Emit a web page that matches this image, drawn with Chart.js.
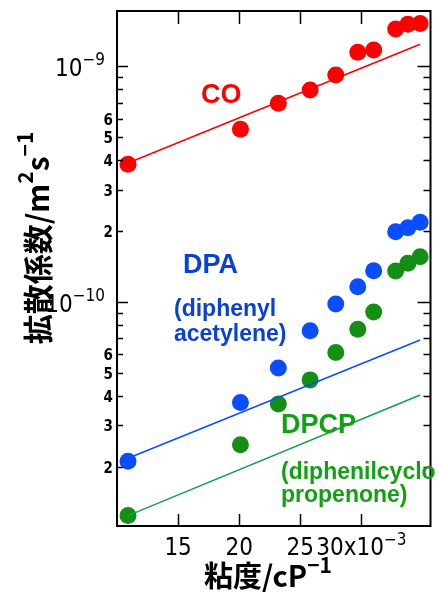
<!DOCTYPE html>
<html>
<head>
<meta charset="utf-8">
<script src="https://cdn.jsdelivr.net/npm/chart.js@4/dist/chart.umd.min.js"></script>
<style>
html, body { margin: 0; padding: 0; background: #fff; }
#wrap { width: 439px; height: 594px; }
</style>
</head>
<body>
<div id="wrap"><canvas id="diffusionChart" width="439" height="594"></canvas></div>
<script>
// 粘度の逆数 (x10^-3 cP^-1)
const invViscosity = [10.9, 20.1, 23.2, 25.8, 27.9, 29.7, 31.0, 32.8, 33.8, 34.8];
// 拡散係数 (m^2 s^-1)
const diffCO = [3.84e-10, 5.41e-10, 6.97e-10, 7.93e-10, 9.19e-10, 1.147e-9, 1.173e-9, 1.44e-9, 1.507e-9, 1.52e-9];
const diffDPA = [2.11e-11, 3.74e-11, 5.25e-11, 7.55e-11, 9.81e-11, 1.161e-10, 1.358e-10, 1.987e-10, 2.066e-10, 2.18e-10];
const diffDPCP = [1.24e-11, 2.48e-11, 3.69e-11, 4.67e-11, 6.10e-11, 7.66e-11, 9.07e-11, 1.354e-10, 1.46e-10, 1.557e-10];
// 直線 (両端)
const fitX = [10.9, 34.8];
const fitCO = [3.89e-10, 1.24e-9];
const fitDPA = [2.17e-11, 6.9e-11];
const fitDPCP = [1.24e-11, 4.03e-11];
// 目盛り
const xTicks = [15, 20, 25, 30];
const yDecades = [-11, -10, -9];
const yLabeledMantissa = [2, 3, 4, 5, 6];

const toPoints = (xs, ys) => xs.map((x, i) => ({ x: x, y: ys[i] }));

const RED = '#ff0000';
const BLUE = '#0a4dff';
const BLUE_TEXT = '#0a3fd8';
const GREEN = '#139013';
const GREEN_LINE = '#12a050';
const GREEN_TEXT = '#14a014';
const NARROW = '"Liberation Sans Narrow", "DejaVu Sans Condensed", "Liberation Sans", sans-serif';
const CJK = '"Noto Sans CJK JP", "Noto Sans", sans-serif';
const ARIAL = '"Liberation Sans", Arial, sans-serif';

function scatterSet(data, color) {
    return {
        data: data,
        showLine: false,
        backgroundColor: color,
        borderWidth: 0,
        pointRadius: 8.5,
        pointHoverRadius: 8.5
    };
}
function lineSet(data, color) {
    return {
        data: data,
        showLine: true,
        borderColor: color,
        borderWidth: 1.5,
        pointRadius: 0,
        fill: false
    };
}

// 上付き文字付きテキスト
function drawParts(ctx, parts, x, y, align) {
    let total = 0;
    parts.forEach(p => { ctx.font = p.font; total += ctx.measureText(p.t).width; });
    let cx = x;
    if (align === 'center') cx = x - total / 2;
    if (align === 'right') cx = x - total;
    ctx.textAlign = 'left';
    ctx.textBaseline = 'alphabetic';
    parts.forEach(p => {
        ctx.font = p.font;
        ctx.fillText(p.t, cx, y + (p.dy || 0));
        cx += ctx.measureText(p.t).width;
    });
}

const framePlugin = {
    id: 'framePlugin',
    afterDraw(chart) {
        const ctx = chart.ctx;
        const a = chart.chartArea;
        const xs = chart.scales.x;
        const ys = chart.scales.y;
        ctx.save();
        ctx.strokeStyle = '#000';
        ctx.fillStyle = '#000';
        ctx.lineWidth = 2;
        ctx.strokeRect(a.left, a.top, a.right - a.left, a.bottom - a.top);

        // x 目盛り
        ctx.lineWidth = 1.5;
        xTicks.forEach(v => {
            const px = Math.round(xs.getPixelForValue(v)) + 0.5;
            ctx.beginPath();
            ctx.moveTo(px, a.bottom); ctx.lineTo(px, a.bottom - 12);
            ctx.moveTo(px, a.top); ctx.lineTo(px, a.top + 13);
            ctx.stroke();
        });
        xTicks.forEach((v, i) => {
            const px = xs.getPixelForValue(v);
            if (i === xTicks.length - 1) {
                drawParts(ctx, [
                    { t: v + 'x10', font: '24px ' + NARROW },
                    { t: '\u22123', font: '17px ' + NARROW, dy: -10 }
                ], px, 555, 'center');
            } else {
                drawParts(ctx, [{ t: String(v), font: '24px ' + NARROW }], px, 555, 'center');
            }
        });

        // y 目盛り
        yDecades.forEach(e => {
            for (let m = 1; m <= 9; m++) {
                const v = m * Math.pow(10, e);
                if (v < ys.min || v > ys.max) continue;
                const py = Math.round(ys.getPixelForValue(v)) + 0.5;
                const major = m === 1;
                ctx.beginPath();
                ctx.moveTo(a.left, py); ctx.lineTo(a.left + (major ? 11 : 6), py);
                ctx.moveTo(a.right, py); ctx.lineTo(a.right - (major ? 13 : 7), py);
                ctx.stroke();
                if (major) {
                    drawParts(ctx, [
                        { t: '10', font: '24px ' + NARROW },
                        { t: '\u2212' + (-e), font: '17px ' + NARROW, dy: -11 }
                    ], 105, py + 9, 'right');
                } else if (yLabeledMantissa.includes(m)) {
                    drawParts(ctx, [{ t: String(m), font: 'bold 15px ' + NARROW }], 113, py + 5.5, 'right');
                }
            }
        });

        // 軸タイトル
        drawParts(ctx, [
            { t: '粘度/cP', font: 'bold 29px ' + CJK },
            { t: '\u22121', font: 'bold 21px ' + CJK, dy: -14 }
        ], 268, 587, 'center');

        ctx.save();
        ctx.translate(49, 238);
        ctx.rotate(-Math.PI / 2);
        drawParts(ctx, [
            { t: '拡散係数/m', font: 'bold 30px ' + CJK },
            { t: '2', font: 'bold 21px ' + CJK, dy: -16 },
            { t: 's', font: 'bold 30px ' + CJK },
            { t: '\u22121', font: 'bold 21px ' + CJK, dy: -16 }
        ], 0, 0, 'center');
        ctx.restore();

        // 注記
        ctx.fillStyle = RED;
        drawParts(ctx, [{ t: 'CO', font: 'bold 27px ' + ARIAL }], 201, 103, 'left');
        ctx.fillStyle = BLUE_TEXT;
        drawParts(ctx, [{ t: 'DPA', font: 'bold 27px ' + ARIAL }], 183, 273, 'left');
        drawParts(ctx, [{ t: '(diphenyl', font: 'bold 23px ' + ARIAL }], 174, 316, 'left');
        drawParts(ctx, [{ t: 'acetylene)', font: 'bold 23px ' + ARIAL }], 174, 341, 'left');
        ctx.fillStyle = GREEN_TEXT;
        drawParts(ctx, [{ t: 'DPCP', font: 'bold 27px ' + ARIAL }], 281, 433, 'left');
        drawParts(ctx, [{ t: '(diphenilcyclo', font: 'bold 23px ' + ARIAL }], 281, 479, 'left');
        drawParts(ctx, [{ t: 'propenone)', font: 'bold 23px ' + ARIAL }], 281, 502, 'left');
        ctx.restore();
    }
};

const diffusionChart = document.getElementById('diffusionChart');
if (diffusionChart) {
    new Chart(diffusionChart, {
        type: 'scatter',
        data: {
            datasets: [
                lineSet(toPoints(fitX, fitCO), RED),
                lineSet(toPoints(fitX, fitDPA), BLUE),
                lineSet(toPoints(fitX, fitDPCP), GREEN_LINE),
                scatterSet(toPoints(invViscosity, diffCO), RED),
                scatterSet(toPoints(invViscosity, diffDPA), BLUE),
                scatterSet(toPoints(invViscosity, diffDPCP), GREEN)
            ]
        },
        options: {
            responsive: false,
            animation: false,
            layout: { padding: { left: 117, right: 4, top: 11, bottom: 68 } },
            plugins: {
                legend: { display: false },
                tooltip: { enabled: false }
            },
            scales: {
                x: { type: 'linear', display: false, min: 10.0, max: 35.65 },
                y: { type: 'logarithmic', display: false, min: 1.12e-11, max: 1.717e-9 }
            }
        },
        plugins: [framePlugin]
    });
}
</script>
</body>
</html>
